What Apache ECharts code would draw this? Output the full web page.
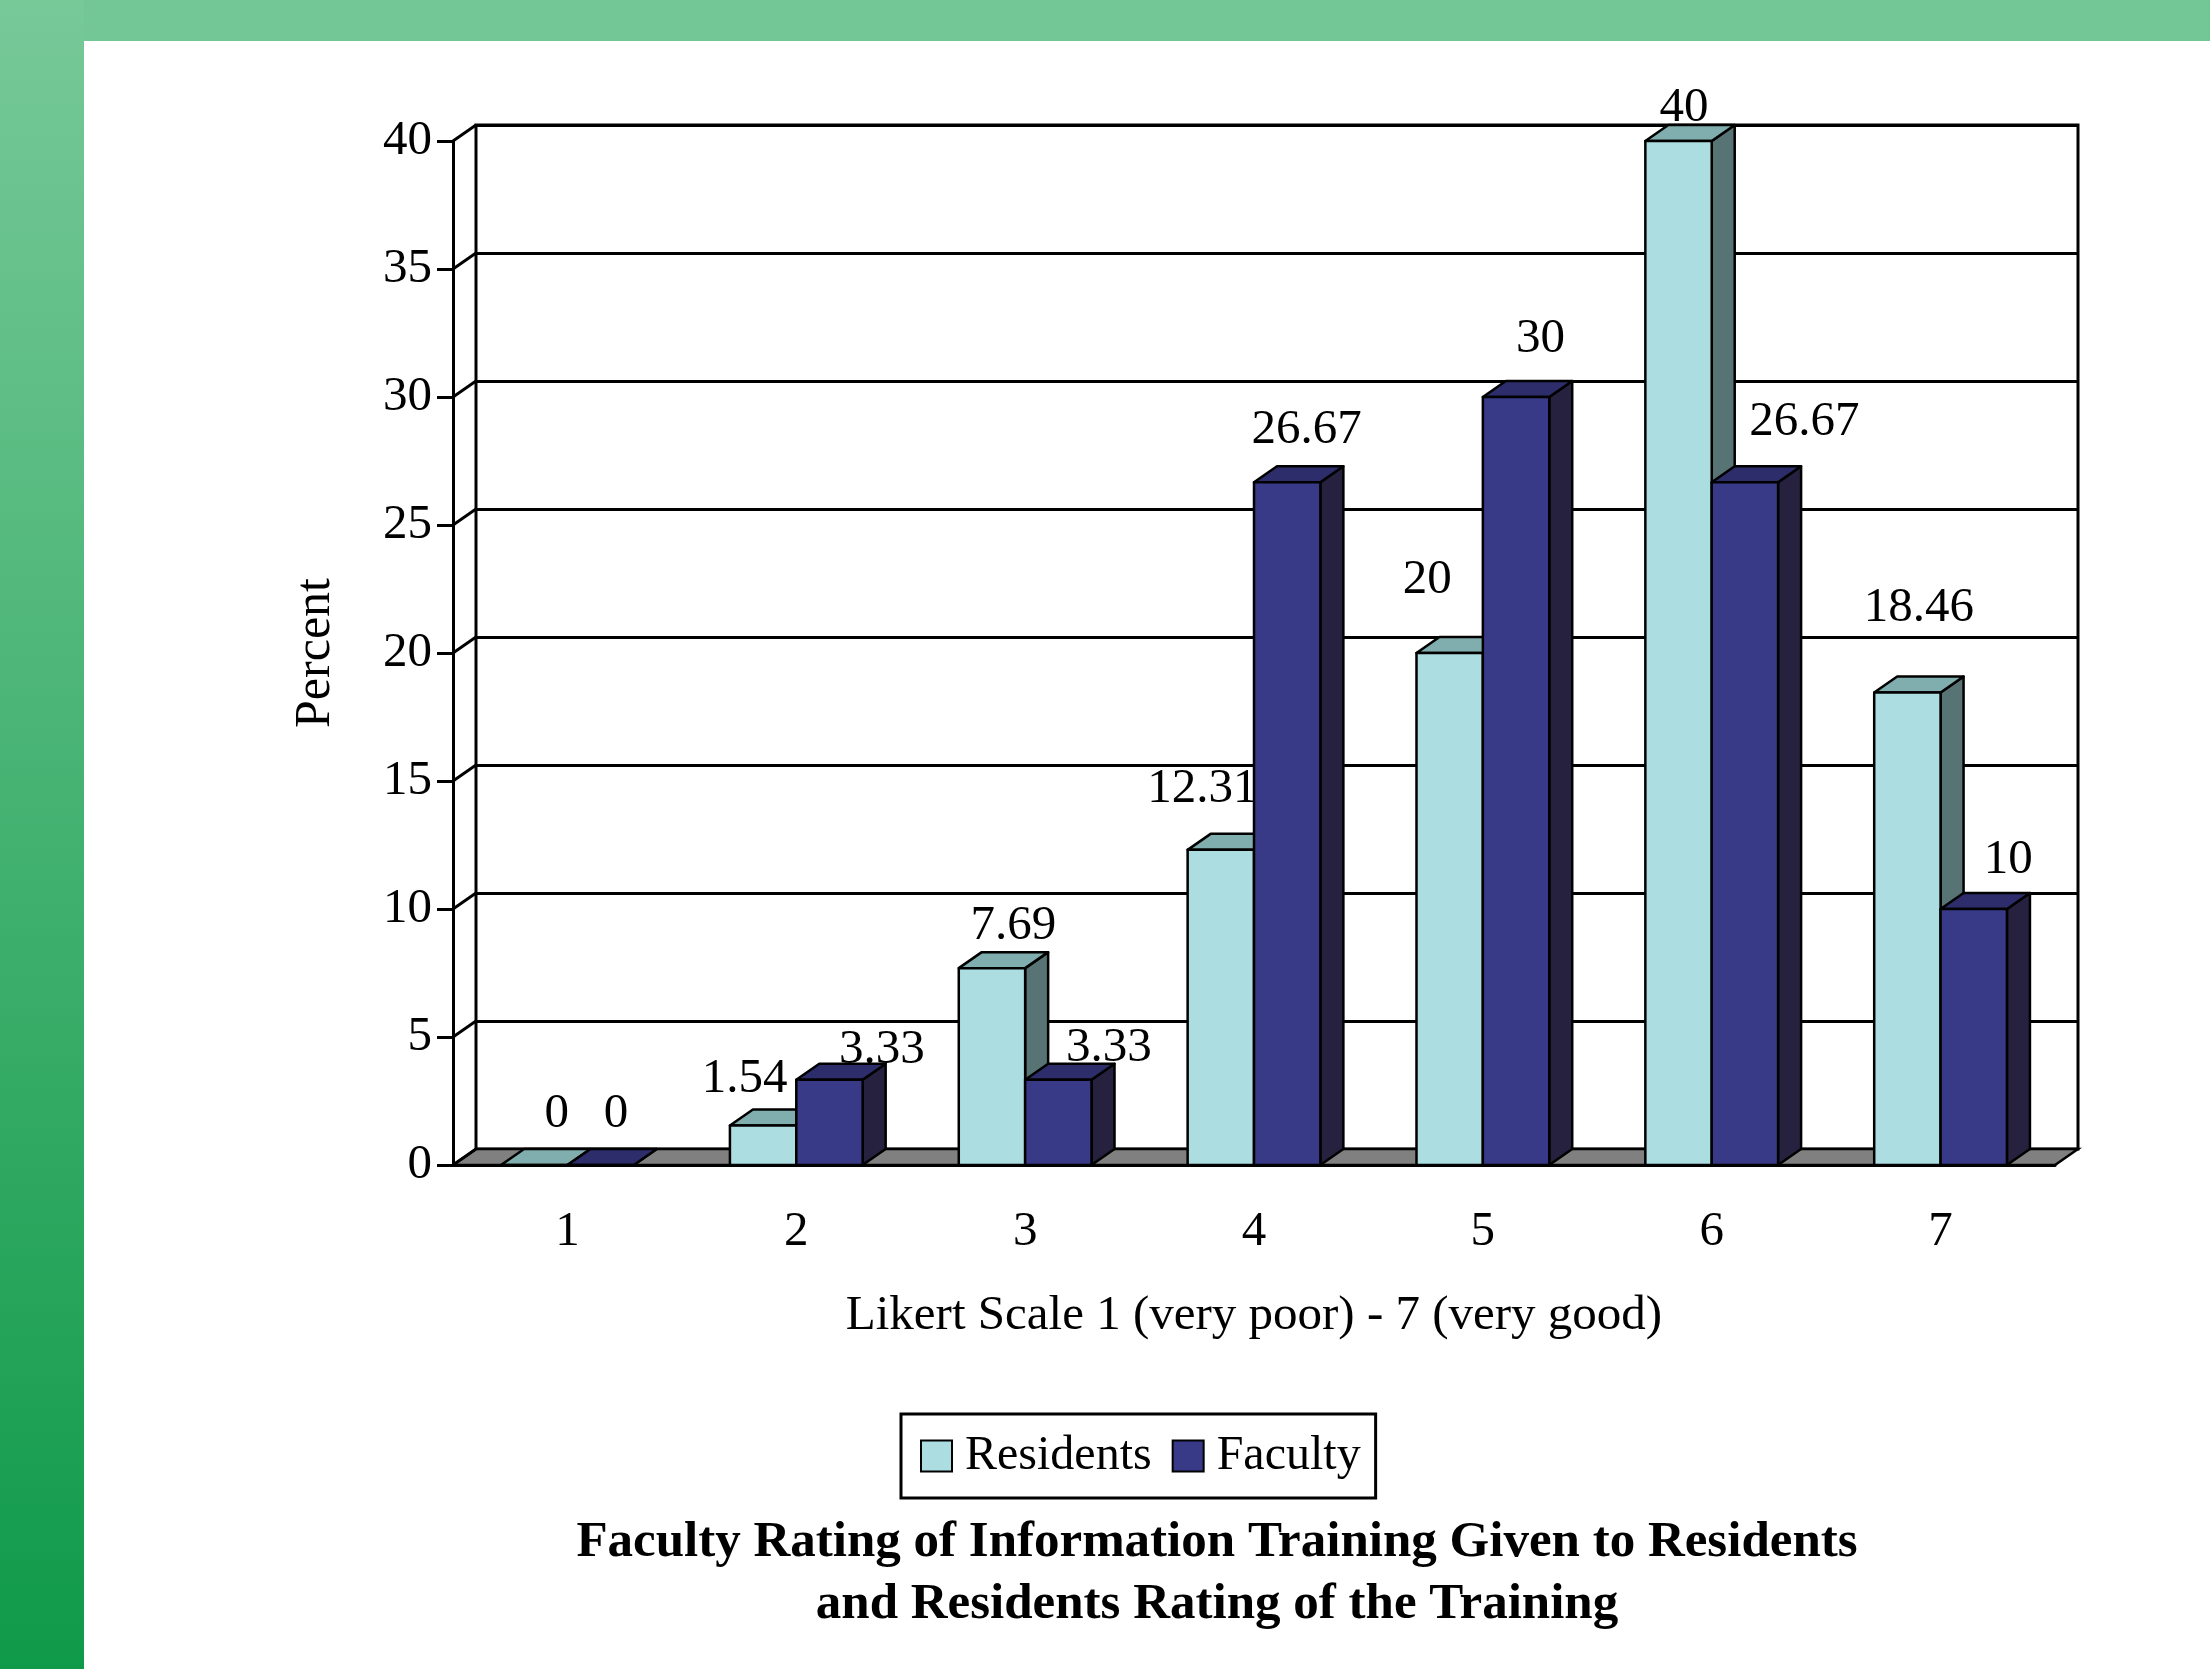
<!DOCTYPE html>
<html><head><meta charset="utf-8">
<script src="https://cdn.jsdelivr.net/npm/echarts@6/dist/echarts.min.js"></script>
<style>html,body{margin:0;padding:0;background:#fff;}#chart{width:2210px;height:1669px;}</style>
</head><body><div id="chart"></div>
<script>
// ---- data ----
const categories = ['1', '2', '3', '4', '5', '6', '7'];
const residents = [0, 1.54, 7.69, 12.31, 20, 40, 18.46];
const faculty = [0, 3.33, 3.33, 26.67, 30, 26.67, 10];
const yTicks = [0, 5, 10, 15, 20, 25, 30, 35, 40];
const seriesNames = ['Residents', 'Faculty'];
const xAxisTitle = 'Likert Scale 1 (very poor) - 7 (very good)';
const yAxisTitle = 'Percent';
const chartTitle = 'Faculty Rating of Information Training Given to Residents\nand Residents Rating of the Training';

// ---- layout / style ----
const FONT = '"Liberation Serif", "Times New Roman", serif';
const DX = 23, DY = -16;           // 3D depth offset (px)
const BAR_RATIO = 0.29;            // bar width as fraction of band
const palettes = [
  {front: '#acdde0', top: '#80adad', side: '#587373'},
  {front: '#393a87', top: '#2c2d6a', side: '#25213f'}
];
// per-label nudges (px) relative to the default label anchor, as placed in the original
const labelNudges = [
  [[11, -8], [-30, -4], [10, 0], [-30, -18], [-34, -30], [-6, 10], [0, -42]],
  [[4, -8], [41, 13], [39, 11], [8, -10], [13, -15], [48, -18], [23, -6]]
];

function bar3d(values, palette, which) {
  return function (params, api) {
    const i = api.value(0);
    const v = api.value(1);
    const top = api.coord([i, v]);
    const base = api.coord([i, 0]);
    const band = api.size([1, 0])[0];
    const w = band * BAR_RATIO;
    const x0 = which === 0 ? top[0] - w : top[0];
    const x1 = x0 + w;
    const yT = top[1], yB = base[1];
    const nd = labelNudges[which][params.dataIndex];
    const st = (fill) => ({fill: fill, stroke: '#000', lineWidth: 2.5, lineJoin: 'round'});
    return {type: 'group', children: [
      {type: 'polygon', shape: {points: [[x1, yB], [x1 + DX, yB + DY], [x1 + DX, yT + DY], [x1, yT]]}, style: st(palette.side)},
      {type: 'polygon', shape: {points: [[x0, yT], [x1, yT], [x1 + DX, yT + DY], [x0 + DX, yT + DY]]}, style: st(palette.top)},
      {type: 'rect', shape: {x: x0, y: yT, width: w, height: yB - yT}, style: st(palette.front)},
      {type: 'text', z2: 100, style: {text: String(values[params.dataIndex]),
        x: (x0 + x1) / 2 + DX / 2 + nd[0], y: yT + DY - 2 + nd[1],
        align: 'center', verticalAlign: 'bottom', font: '49px ' + FONT, fill: '#000'}}
    ]};
  };
}

const chart = echarts.init(document.getElementById('chart'), null, {renderer: 'canvas'});
const option = {
  backgroundColor: '#fff',
  animation: false,
  graphic: [
    {type: 'rect', shape: {x: 0, y: 0, width: 2210, height: 41}, style: {fill: '#73c796'}},
    {type: 'rect', shape: {x: 0, y: 0, width: 84, height: 1669}, style: {fill: {type: 'linear', x: 0, y: 0, x2: 0, y2: 1,
      colorStops: [{offset: 0, color: '#77c998'}, {offset: 1, color: '#0f9a49'}]}}}
  ],
  title: {
    text: chartTitle, left: 1217, top: 1512, padding: 0, textAlign: 'center', textVerticalAlign: 'top',
    textStyle: {fontFamily: FONT, fontWeight: 'bold', fontSize: 51, lineHeight: 62, color: '#000'}
  },
  legend: {
    data: seriesNames, left: 901, top: 1414, orient: 'horizontal', icon: 'rect',
    itemWidth: 31, itemHeight: 31, itemGap: 20, padding: [18, 15, 18, 19],
    borderColor: '#000', borderWidth: 3, backgroundColor: '#fff', selectedMode: false,
    itemStyle: {borderColor: '#000', borderWidth: 2},
    textStyle: {fontFamily: FONT, fontSize: 48, color: '#000', padding: [0, 0, 0, 8]}
  },
  grid: [
    {left: 453, top: 141, width: 1602, height: 1024, outerBoundsMode: 'none'},
    {left: 476, top: 125, width: 1602, height: 1024, outerBoundsMode: 'none', show: true, backgroundColor: '#fff', borderColor: '#000', borderWidth: 3}
  ],
  xAxis: [
    {gridIndex: 0, type: 'category', data: categories, boundaryGap: true,
      axisLine: {lineStyle: {color: '#000', width: 3}},
      axisTick: {length: 17, lineStyle: {color: '#000', width: 3}},
      axisLabel: {color: '#000', fontSize: 49, fontFamily: FONT, margin: 43},
      name: xAxisTitle, nameLocation: 'middle', nameGap: 127,
      nameTextStyle: {color: '#000', fontSize: 49, fontFamily: FONT}},
    {gridIndex: 1, type: 'category', data: categories, show: false}
  ],
  yAxis: [
    {gridIndex: 0, type: 'value', min: 0, max: 40, interval: 5,
      axisLine: {show: true, lineStyle: {color: '#000', width: 3}},
      axisTick: {show: true, length: 16, lineStyle: {color: '#000', width: 3}},
      splitLine: {show: false},
      axisLabel: {color: '#000', fontSize: 49, fontFamily: FONT, margin: 21},
      name: yAxisTitle, nameLocation: 'middle', nameGap: 112, nameRotate: 90,
      nameTextStyle: {color: '#000', fontSize: 50, fontFamily: FONT}},
    {gridIndex: 1, type: 'value', min: 0, max: 40, interval: 5,
      axisLine: {show: false}, axisTick: {show: false}, axisLabel: {show: false},
      splitLine: {show: true, lineStyle: {color: '#000', width: 3}}}
  ],
  series: [
    {type: 'custom', name: 'floor', xAxisIndex: 0, yAxisIndex: 0, z: 1, clip: false, silent: true,
      data: [[0, 0]],
      renderItem: function (params, api) {
        const cs = params.coordSys;
        const yB = api.coord([0, 0])[1];
        const xL = cs.x, xR = cs.x + cs.width;
        return {type: 'polygon', shape: {points: [[xL, yB], [xR, yB], [xR + DX, yB + DY], [xL + DX, yB + DY]]},
          style: {fill: '#808080', stroke: '#000', lineWidth: 2.5}};
      }},
    {type: 'custom', name: 'walls', xAxisIndex: 0, yAxisIndex: 0, z: 1, clip: false, silent: true,
      data: yTicks.map(v => [0, v]),
      renderItem: function (params, api) {
        const cs = params.coordSys;
        const y = api.coord([0, api.value(1)])[1];
        return {type: 'line', shape: {x1: cs.x, y1: y, x2: cs.x + DX, y2: y + DY}, style: {stroke: '#000', lineWidth: 3}};
      }},
    {type: 'custom', name: seriesNames[0], xAxisIndex: 0, yAxisIndex: 0, z: 3, clip: false,
      itemStyle: {color: palettes[0].front, borderColor: '#000', borderWidth: 2},
      data: residents.map((v, i) => [i, v]),
      renderItem: bar3d(residents, palettes[0], 0)},
    {type: 'custom', name: seriesNames[1], xAxisIndex: 0, yAxisIndex: 0, z: 3, clip: false,
      itemStyle: {color: palettes[1].front, borderColor: '#000', borderWidth: 2},
      data: faculty.map((v, i) => [i, v]),
      renderItem: bar3d(faculty, palettes[1], 1)}
  ]
};
chart.setOption(option);
</script>
</body></html>
